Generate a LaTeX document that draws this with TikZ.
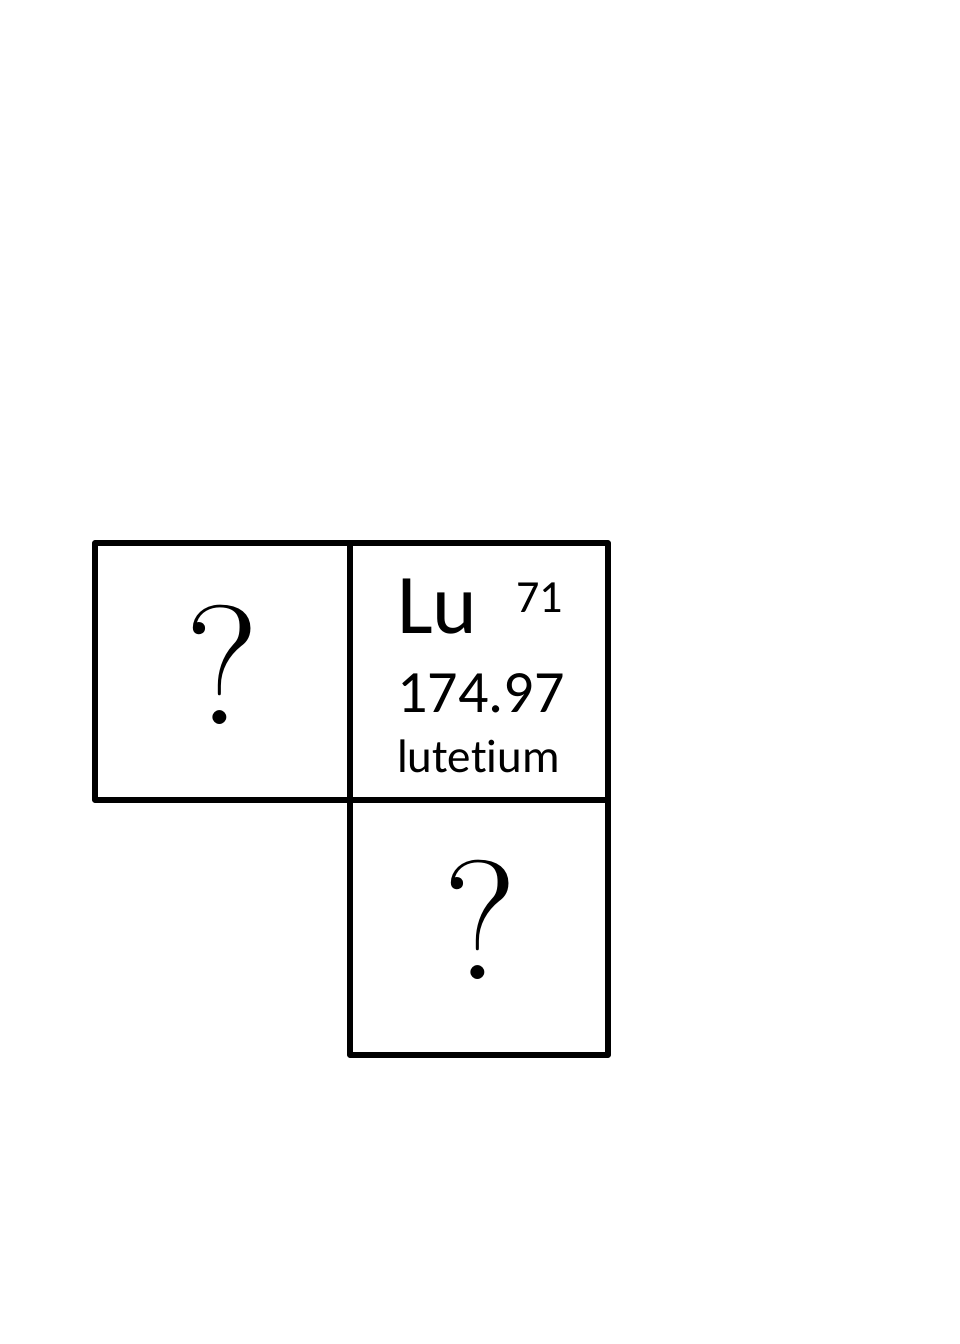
\documentclass[tikz,border=0pt]{standalone}
\usepackage{fontspec}
\setmainfont[Ligatures={NoCommon}]{Carlito}
\newfontfamily\qfont{Latin Modern Roman}
\begin{document}
\begin{tikzpicture}[x=1pt,y=-1pt,
  cell/.style={draw=black,line width=6pt,line join=round,inner sep=0pt,outer sep=0pt},
  lbl/.style={anchor=base west,inner sep=0pt}]
\useasboundingbox (0,0) rectangle (960,1344);
\node[cell,minimum width=255pt,minimum height=257pt] (left) at (222.5,671.5) {};
\node[cell,minimum width=258pt,minimum height=257pt] (lu) at (479,671.5) {};
\node[cell,minimum width=258pt,minimum height=255pt] (below) at (479,927.5) {};
\node[anchor=center,inner sep=0pt] (q1) at (222,665) {\qfont\fontsize{170}{170}\selectfont ?};
\node[anchor=center,inner sep=0pt] (q2) at (480,920) {\qfont\fontsize{170}{170}\selectfont ?};
\node[lbl] (sym) at (397,633) {\fontsize{85}{85}\selectfont Lu};
\node[lbl] (num) at (516,612) {\fontsize{46}{46}\selectfont 71};
\node[lbl] (mass) at (397,712) {\fontsize{60}{60}\selectfont 174.97};
\node[lbl] (name) at (397,772) {\fontsize{47}{47}\selectfont lutetium};
\end{tikzpicture}
\end{document}
